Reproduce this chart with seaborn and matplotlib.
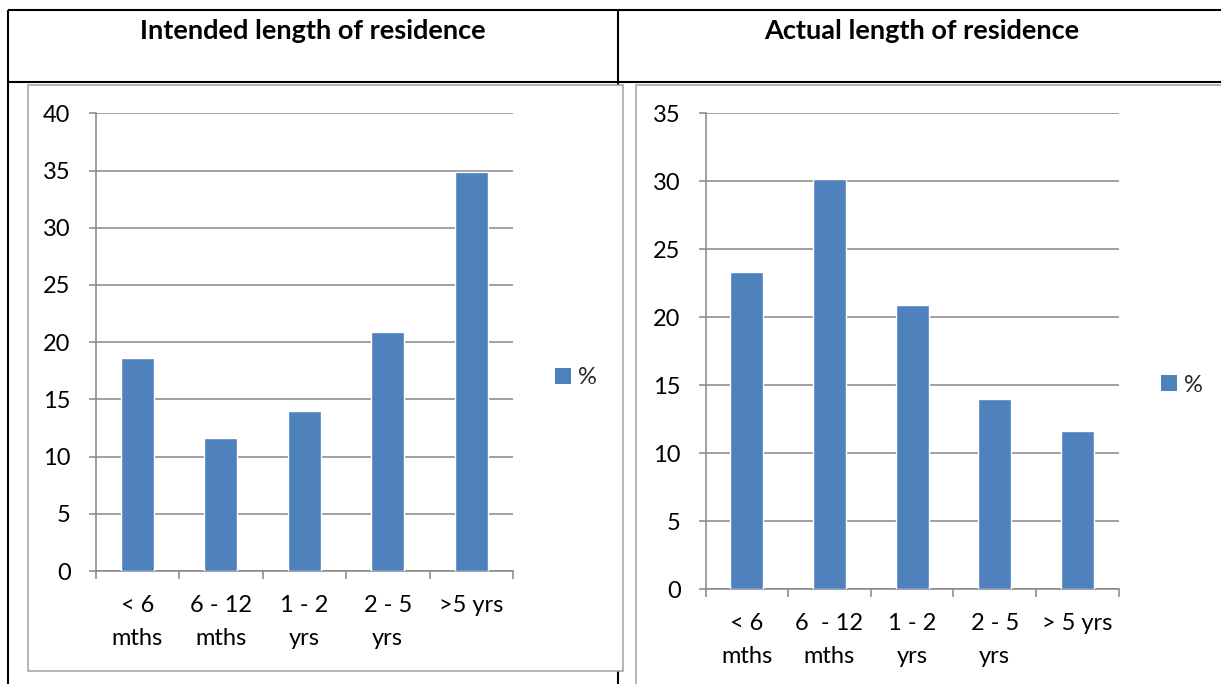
import matplotlib
matplotlib.use("Agg")
import matplotlib.pyplot as plt
import seaborn as sns
import pandas as pd
from matplotlib.patches import Rectangle, Patch

# Survey results: share of respondents (%) by length of residence
intended_labels = ["< 6\nmths", "6 - 12\nmths", "1 - 2\nyrs", "2 - 5\nyrs", ">5 yrs"]
intended_pct = [18.6, 11.6, 14.0, 20.9, 34.9]

actual_labels = ["< 6\nmths", "6  - 12\nmths", "1 - 2\nyrs", "2 - 5\nyrs", "> 5 yrs"]
actual_pct = [23.3, 30.2, 20.9, 14.0, 11.6]

titles = ["Intended length of residence", "Actual length of residence"]
series_name = "%"

W, H, DPI = 1221, 684, 100
BAR = "#4f81bd"
GRID = "#868686"
FRAME = "#a0a0a0"
FS = 17

sns.set_theme(style="white")
plt.rcParams["font.family"] = ["Lato", "DejaVu Sans"]

fig = plt.figure(figsize=(W / DPI, H / DPI), dpi=DPI)
fig.patch.set_facecolor("white")


def px_axes(x0, y0, x1, y1, **kw):
    """Add axes from a pixel box measured from the top-left corner."""
    return fig.add_axes([x0 / W, 1 - y1 / H, (x1 - x0) / W, (y1 - y0) / H], **kw)


# Background layer: table rules and the two chart frames
bg = px_axes(0, 0, W, H, zorder=0)
bg.set_xlim(0, W)
bg.set_ylim(H, 0)
bg.axis("off")
lw_rule = 1.5
bg.plot([8, W + 5], [10, 10], color="black", lw=lw_rule, solid_capstyle="butt")
bg.plot([8, W + 5], [82, 82], color="black", lw=lw_rule, solid_capstyle="butt")
bg.plot([8, 8], [10, H + 5], color="black", lw=lw_rule, solid_capstyle="butt")
bg.plot([617.5, 617.5], [10, H + 5], color="black", lw=lw_rule, solid_capstyle="butt")
bg.add_patch(Rectangle((28, 85), 595, 586, facecolor="white", edgecolor=FRAME, lw=1.1, zorder=3))
bg.add_patch(Rectangle((636, 85), 700, 700, facecolor="white", edgecolor=FRAME, lw=1.1, zorder=3))

# Header titles
fig.text(313 / W, 1 - 39 / H, titles[0], ha="center", va="baseline",
         fontsize=19.5, fontweight="bold", color="black")
fig.text(922 / W, 1 - 39 / H, titles[1], ha="center", va="baseline",
         fontsize=19.5, fontweight="bold", color="black")


def draw_chart(box, labels, values, ymax, legend_xy):
    ax = px_axes(*box, zorder=2)
    df = pd.DataFrame({"period": labels, "pct": values})
    sns.barplot(data=df, x="period", y="pct", color=BAR, saturation=1,
                width=0.4, ax=ax, zorder=3)
    ax.set_xlim(-0.5, len(labels) - 0.5)
    ax.set_ylim(0, ymax)
    ax.set_yticks(list(range(0, ymax + 1, 5)))
    ax.set_xlabel("")
    ax.set_ylabel("")
    ax.set_facecolor("white")
    ax.set_axisbelow(True)
    ax.yaxis.grid(True, color=GRID, lw=1.1)
    ax.xaxis.grid(False)
    for side in ("top", "right"):
        ax.spines[side].set_visible(False)
    for side in ("left", "bottom"):
        ax.spines[side].set_color(GRID)
        ax.spines[side].set_linewidth(1.1)
    ax.tick_params(axis="y", which="major", direction="out", length=5, width=1.1,
                   color=GRID, pad=13, labelsize=FS, labelcolor="black", left=True)
    ax.set_xticks([i - 0.5 for i in range(len(labels) + 1)], minor=True)
    ax.tick_params(axis="x", which="minor", direction="out", length=6, width=1.1,
                   color=GRID, bottom=True)
    ax.tick_params(axis="x", which="major", length=0, pad=17, labelsize=FS,
                   labelcolor="black")
    ax.set_xticks(list(range(len(labels))))
    ax.set_xticklabels(labels, linespacing=1.72, fontsize=FS)
    ax.legend(handles=[Patch(facecolor=BAR, edgecolor="none", label=series_name)],
              loc="center left", bbox_to_anchor=(legend_xy[0] / W, 1 - legend_xy[1] / H),
              bbox_transform=fig.transFigure, frameon=False, fontsize=FS,
              handlelength=0.68, handleheight=0.68, handletextpad=0.3,
              borderpad=0, borderaxespad=0)
    return ax


draw_chart((95.5, 113.3, 513, 571), intended_labels, intended_pct, 40, (555, 377.5))
draw_chart((705.5, 113.3, 1118.6, 589), actual_labels, actual_pct, 35, (1161, 385))

fig.savefig("out.png", dpi=DPI, facecolor="white")
